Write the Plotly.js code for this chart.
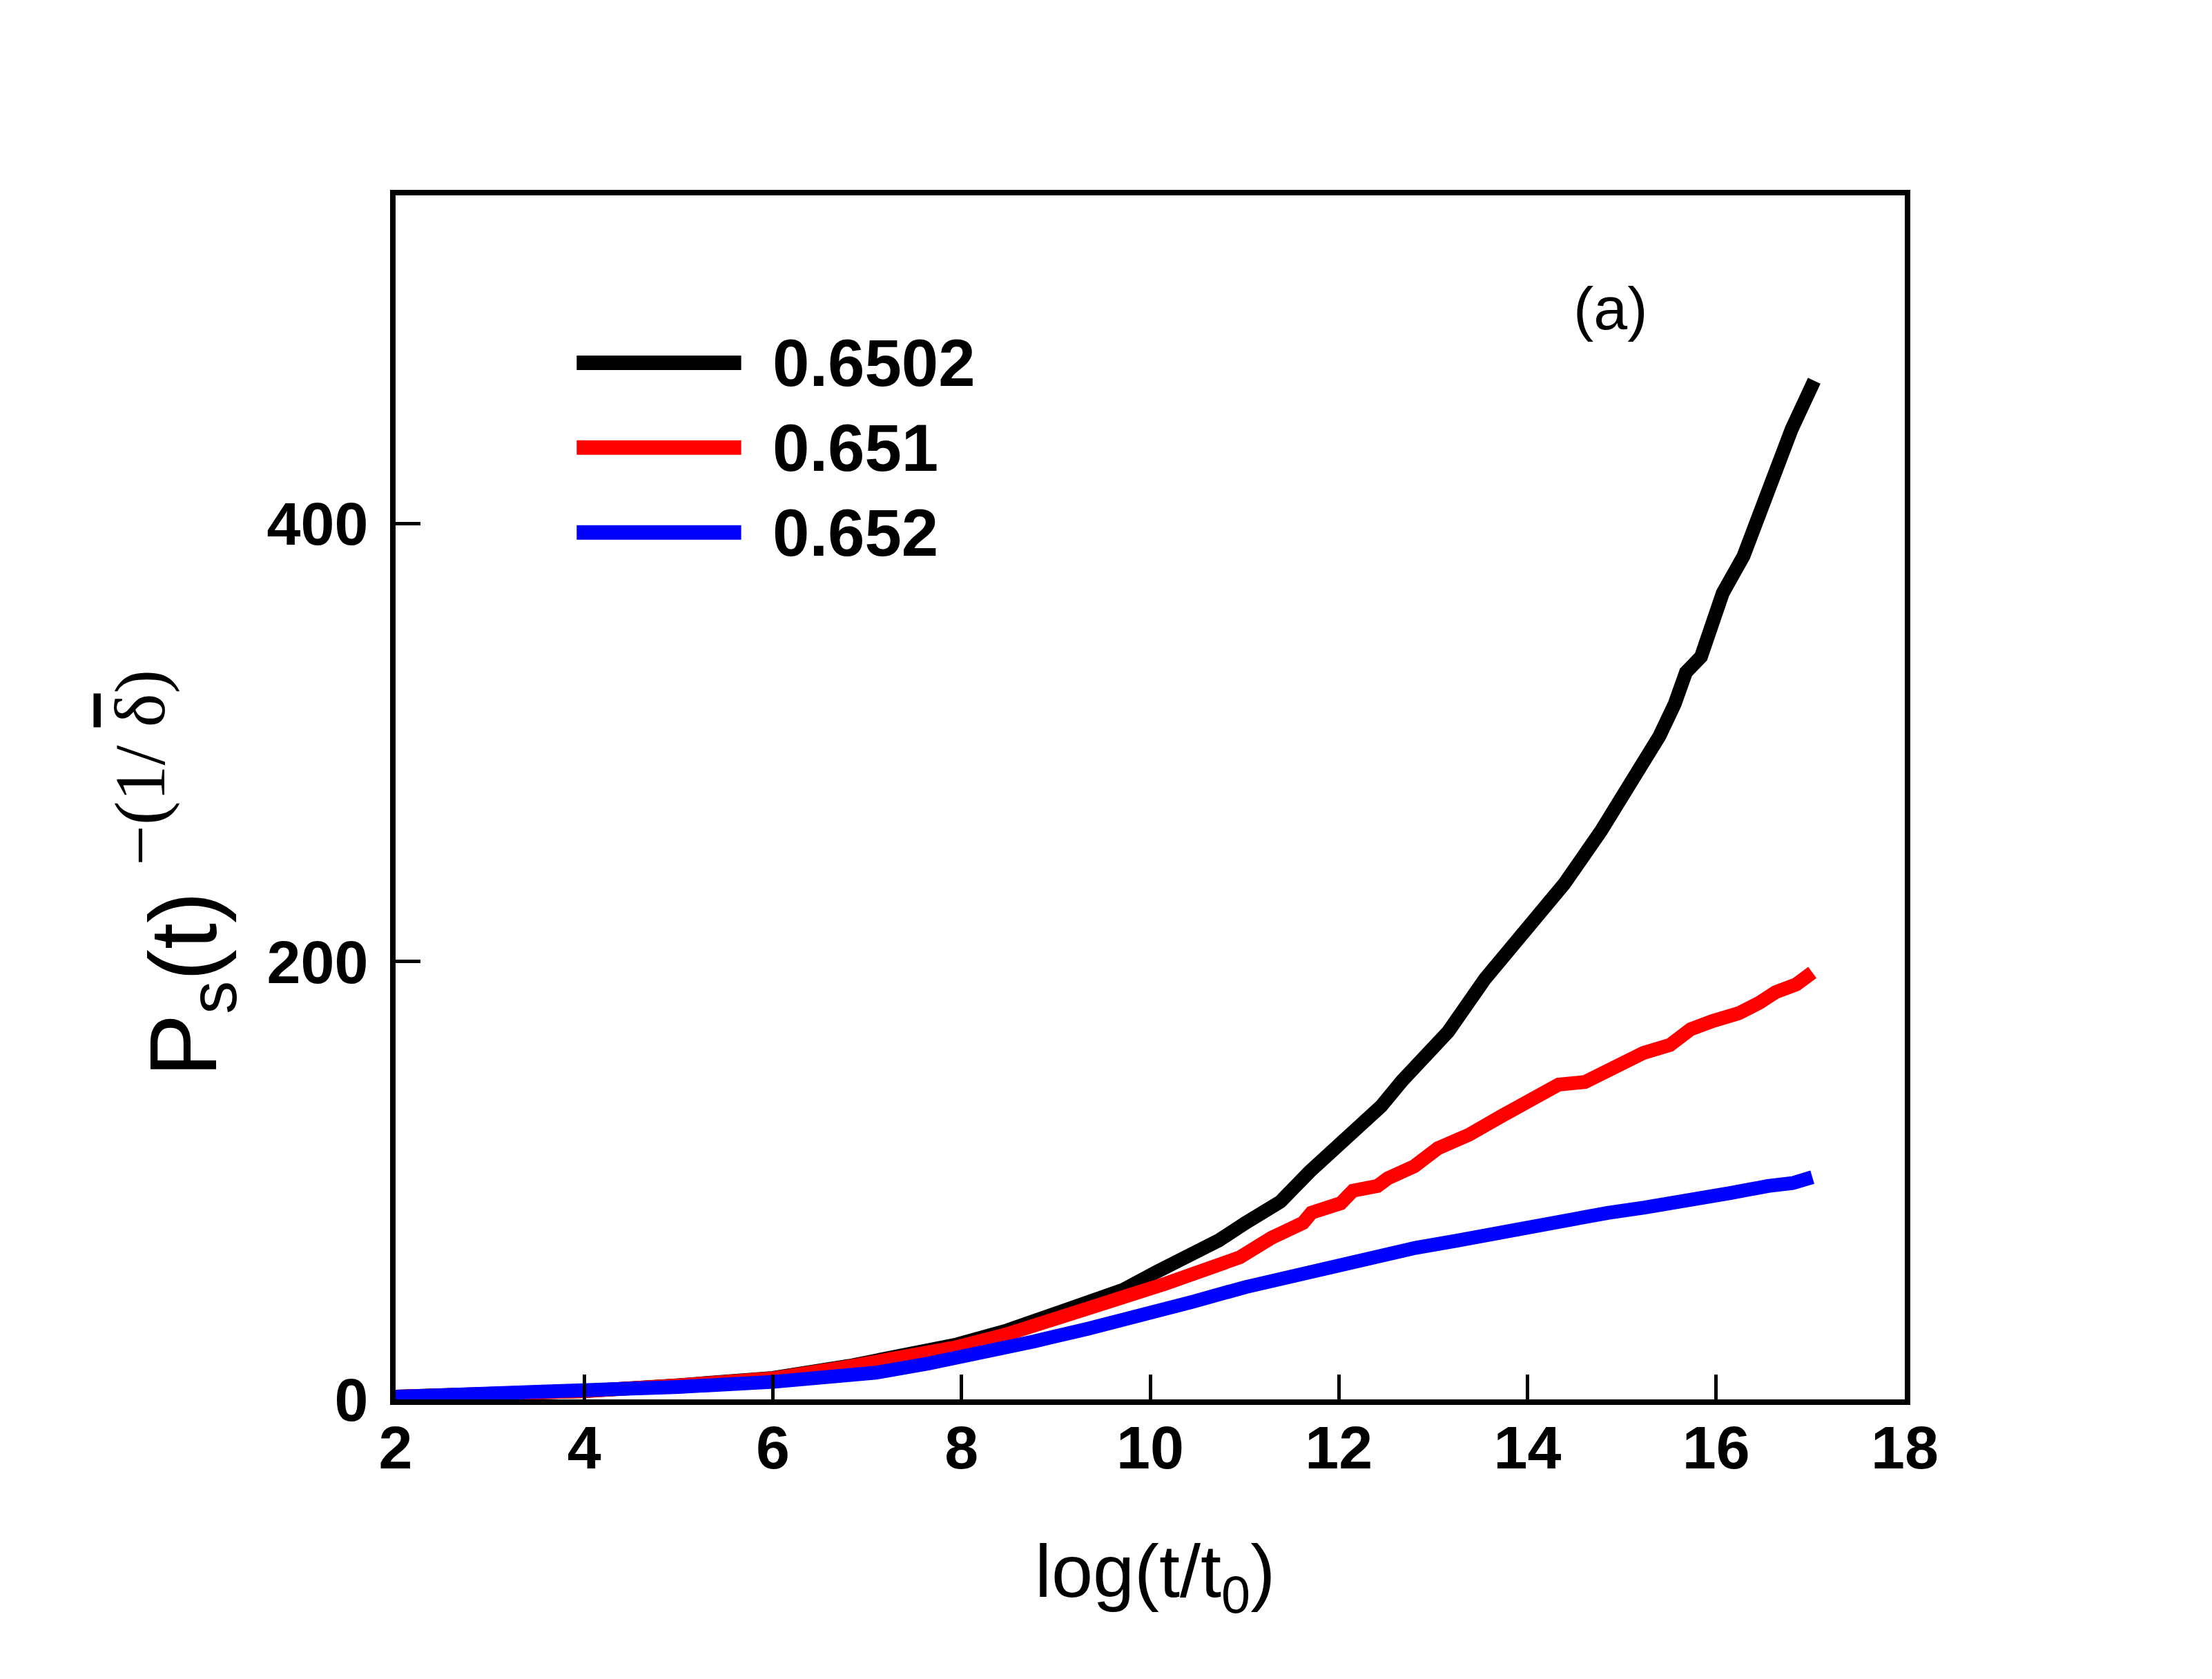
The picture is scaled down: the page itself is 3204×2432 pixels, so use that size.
<!DOCTYPE html>
<html>
<head>
<meta charset="utf-8">
<script src="https://cdn.plot.ly/plotly-3.1.2.min.js"></script>
<style>
  html, body { margin: 0; padding: 0; background: #fff; }
  #chart { width: 3204px; height: 2432px; }
</style>
</head>
<body>
<div id="chart"></div>
<script>
// values
const seriesNames = ["0.6502", "0.651", "0.652"];
const seriesColors = ["#000000", "#ff0000", "#0000ff"];

const blackX = [2.0, 3.0, 4.0, 5.0, 6.0, 6.81, 7.37, 7.93, 8.49, 8.94, 9.33, 9.72, 10.06, 10.39, 10.73,
  11.01, 11.38, 11.69, 12.1, 12.45, 12.67, 12.93, 13.16, 13.55, 13.83, 14.16, 14.39, 14.78, 15.0,
  15.23, 15.4, 15.56, 15.68, 15.84, 15.98, 16.07, 16.29, 16.46, 16.63, 16.8, 17.04];
const blackY = [1.3, 2.4, 3.8, 6.5, 9.8, 15.3, 19.8, 24.9, 31.6, 37.8, 44.0, 50.2, 58.1, 64.9, 72.7,
  80.6, 90.3, 104.0, 119.5, 134.0, 145.5, 158.3, 168.0, 192.1, 206.6, 225.9, 235.5, 259.7, 274.1,
  291.0, 303.1, 317.6, 332.1, 339.3, 356.2, 368.3, 385.2, 404.5, 426.2, 443.1, 465.3];

const redX = [2.0, 3.0, 4.0, 5.0, 6.0, 6.81, 7.37, 7.93, 8.49, 8.94, 9.33, 9.72, 10.17, 10.5, 10.95,
  11.29, 11.62, 11.71, 12.02, 12.15, 12.41, 12.52, 12.8, 13.05, 13.38, 13.72, 14.05, 14.33, 14.61,
  14.95, 15.23, 15.51, 15.73, 15.96, 16.24, 16.46, 16.63, 16.85, 17.02];
const redY = [1.3, 2.4, 3.8, 6.4, 9.6, 15.0, 19.5, 23.7, 29.9, 35.6, 41.2, 46.8, 53.0, 58.1, 64.9,
  73.9, 80.6, 85.3, 89.6, 95.3, 97.5, 101.0, 106.5, 114.7, 120.9, 129.3, 137.8, 143.8, 145.0,
  152.2, 158.3, 161.9, 169.1, 172.8, 176.4, 181.2, 186.0, 189.6, 195.0];

const blueX = [2.0, 3.0, 4.0, 5.0, 6.0, 6.53, 7.09, 7.65, 8.21, 8.77, 9.33, 9.89, 10.45, 11.01, 11.35,
  11.57, 12.08, 12.5, 12.81, 13.25, 13.54, 13.81, 14.3, 14.85, 15.24, 15.51, 15.77, 16.16, 16.55,
  16.81, 17.02];
const blueY = [1.2, 2.2, 3.5, 5.7, 8.0, 9.6, 12.2, 16.4, 20.9, 26.5, 32.2, 37.8, 44.6, 51.3, 54.8,
  57.8, 62.5, 66.5, 69.2, 72.5, 74.8, 77.2, 81.8, 85.2, 87.6, 90.0, 91.2, 94.3, 97.5,
  98.8, 101.5];

const xTicks = [2, 4, 6, 8, 10, 12, 14, 16, 18];
const yTicks = [0, 200, 400];

const sans = "Liberation Sans, Arial, sans-serif";
const serif = "Liberation Serif, Times New Roman, serif";

const allX = [blackX, redX, blueX];
const allY = [blackY, redY, blueY];
const traces = allX.map((xs, i) => ({
  x: xs,
  y: allY[i],
  type: "scatter",
  mode: "lines",
  name: seriesNames[i],
  line: { color: seriesColors[i], width: 20 },
  showlegend: false,
}));

// hand-made legend: long line samples with bold labels
const legendShapes = [];
const legendNotes = [];
seriesNames.forEach((name, i) => {
  const rowY = 0.861 - i * 0.0705;
  legendShapes.push({
    type: "line", xref: "paper", yref: "paper",
    x0: 0.12, x1: 0.229, y0: rowY, y1: rowY,
    line: { color: seriesColors[i], width: 21 },
  });
  legendNotes.push({
    xref: "paper", yref: "paper", x: 0.249, y: rowY,
    xanchor: "left", yanchor: "middle", showarrow: false,
    text: name,
    font: { family: sans, size: 96, color: "#000", weight: "bold" },
  });
});

const axisCommon = {
  showline: true, linewidth: 8, linecolor: "#000", mirror: true,
  ticks: "inside", ticklen: 36, tickwidth: 5, tickcolor: "#000",
  showgrid: false, zeroline: false,
  tickfont: { family: sans, size: 88, color: "#000", weight: "bold" },
};

const layout = {
  width: 3204,
  height: 2432,
  margin: { l: 573, r: 445, t: 283, b: 405 },
  paper_bgcolor: "#fff",
  plot_bgcolor: "#fff",
  showlegend: false,
  xaxis: { ...axisCommon, range: [2, 18], tickvals: xTicks, ticklabelstandoff: -14 },
  yaxis: { ...axisCommon, range: [0, 550], tickvals: yTicks, ticklabelstandoff: 14 },
  shapes: legendShapes,
  annotations: [
    ...legendNotes,
    {
      xref: "paper", yref: "paper", x: 0.805, y: 0.906,
      xanchor: "center", yanchor: "middle", showarrow: false,
      text: "(a)", font: { family: sans, size: 88, color: "#000" },
    },
    {
      xref: "paper", yref: "paper", x: 0.503, y: -0.147,
      xanchor: "center", yanchor: "middle", showarrow: false,
      text: "log(t/t<sub>0</sub>)", font: { family: sans, size: 108, color: "#000" },
    },
    {
      // y title, base part
      xref: "paper", yref: "paper", x: -0.136, y: 0.345,
      xanchor: "center", yanchor: "middle", showarrow: false, textangle: -90,
      text: "P<sub>s</sub>(t)",
      font: { family: sans, size: 137, color: "#000" },
    },
    {
      // y title, exponent part
      xref: "paper", yref: "paper", x: -0.169, y: 0.5246,
      xanchor: "center", yanchor: "middle", showarrow: false, textangle: -90,
      text: "\u2212(1/ <span style=\"text-decoration:overline\">\u03b4</span>)",
      font: { family: serif, size: 104, color: "#000" },
    },
  ],
};

Plotly.newPlot("chart", traces, layout, { staticPlot: true });
</script>
</body>
</html>
